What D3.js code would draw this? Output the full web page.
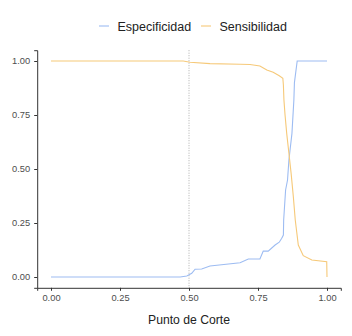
<!DOCTYPE html>
<html>
<head>
<meta charset="utf-8">
<script src="https://cdn.jsdelivr.net/npm/d3@7"></script>
<style>
  html, body { margin: 0; padding: 0; background: #fff; }
  svg { display: block; font-family: "Liberation Sans", Arial, sans-serif; }
</style>
</head>
<body>
<svg id="chart" width="352" height="336"></svg>
<script>
// Cutoff grid and curve values (specificity / sensitivity)
const espCut = [0.00, 0.468, 0.492, 0.510, 0.522, 0.546, 0.576, 0.685, 0.715, 0.757, 0.769, 0.787, 0.812, 0.827, 0.836, 0.842, 0.843, 0.850, 0.857, 0.862, 0.873, 0.880, 0.882, 0.892, 1.00];
const espVal = [0.000, 0.000, 0.005, 0.017, 0.036, 0.037, 0.051, 0.066, 0.083, 0.083, 0.120, 0.120, 0.148, 0.161, 0.179, 0.194, 0.264, 0.403, 0.449, 0.542, 0.665, 0.820, 0.900, 1.000, 1.000];

const senCut = [0.00, 0.479, 0.504, 0.576, 0.685, 0.721, 0.757, 0.782, 0.805, 0.827, 0.840, 0.842, 0.844, 0.848, 0.854, 0.862, 0.870, 0.878, 0.885, 0.896, 0.914, 0.945, 0.999, 1.00];
const senVal = [1.000, 1.000, 0.994, 0.988, 0.985, 0.984, 0.977, 0.958, 0.948, 0.932, 0.920, 0.889, 0.819, 0.750, 0.665, 0.573, 0.480, 0.372, 0.264, 0.148, 0.099, 0.079, 0.071, 0.000];

const seriesNames = ["Especificidad", "Sensibilidad"];
const seriesColors = ["#9dbcf2", "#f6c979"];
const tickValues = [0, 0.25, 0.5, 0.75, 1];
const cutLine = 0.5;
const xTitle = "Punto de Corte";

const svg = d3.select("#chart");

// Panel expanded 5% beyond the data range on each side
const x = d3.scaleLinear().domain([-0.05, 1.05]).range([37.2, 340.8]);
const y = d3.scaleLinear().domain([-0.05, 1.05]).range([287.8, 50.2]);

const tickFmt = d3.format(".2f");

// Dotted reference line at the chosen cutoff
svg.append("line")
  .attr("x1", x(cutLine)).attr("x2", x(cutLine))
  .attr("y1", y(1.05)).attr("y2", y(-0.05))
  .attr("stroke", "#9a9a9a").attr("stroke-width", 0.8)
  .attr("stroke-dasharray", "1,1.5");

const line = d3.line().x(d => x(d[0])).y(d => y(d[1]));

const series = [
  d3.zip(espCut, espVal),
  d3.zip(senCut, senVal)
];

series.forEach((pts, i) => {
  svg.append("path")
    .datum(pts)
    .attr("d", line)
    .attr("fill", "none")
    .attr("stroke", seriesColors[i])
    .attr("stroke-width", 1.1);
});

// Axes
const xAxis = d3.axisBottom(x).tickValues(tickValues).tickFormat(tickFmt).tickSize(3).tickPadding(4);
const yAxis = d3.axisLeft(y).tickValues(tickValues).tickFormat(tickFmt).tickSize(3).tickPadding(4);

const gx = svg.append("g").attr("transform", `translate(0,${y(-0.05)})`).call(xAxis);
const gy = svg.append("g").attr("transform", `translate(${x(-0.05)},0)`).call(yAxis);

[gx, gy].forEach(g => {
  g.select(".domain").attr("stroke", "#333").attr("stroke-width", 1);
  g.selectAll(".tick line").attr("stroke", "#333");
  g.selectAll(".tick text")
    .attr("fill", "#4d4d4d")
    .style("font-size", "9.3px")
    .style("font-family", "'Liberation Sans', Arial, sans-serif");
});

// Axis title
svg.append("text")
  .attr("x", x(0.5)).attr("y", 324)
  .attr("text-anchor", "middle")
  .attr("fill", "#222")
  .style("font-size", "12.2px")
  .text(xTitle);

// Legend
const legendItems = [
  { name: seriesNames[0], color: seriesColors[0], x0: 99 },
  { name: seriesNames[1], color: seriesColors[1], x0: 201 }
];
legendItems.forEach(it => {
  svg.append("line")
    .attr("x1", it.x0).attr("x2", it.x0 + 10)
    .attr("y1", 26).attr("y2", 26)
    .attr("stroke", it.color).attr("stroke-width", 1.1);
  svg.append("text")
    .attr("x", it.x0 + 18.5).attr("y", 30.5)
    .attr("fill", "#222")
    .style("font-size", "12.5px")
    .text(it.name);
});
</script>
</body>
</html>
